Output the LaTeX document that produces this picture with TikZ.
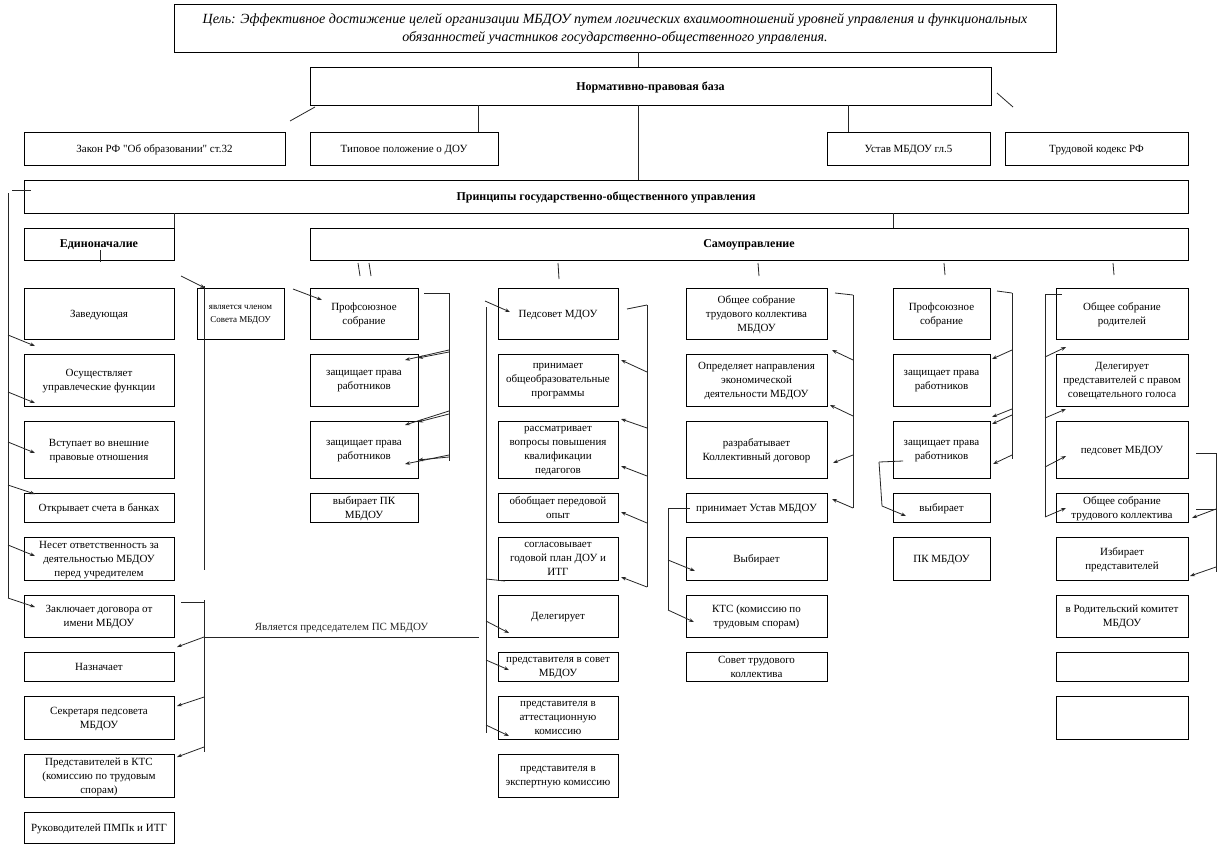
\documentclass[tikz,border=0pt]{standalone}
\usepackage{fontspec}
\setmainfont{Liberation Serif}[Ligatures=TeXOff]
\usetikzlibrary{arrows.meta,positioning,calc}

\begin{document}
\begin{tikzpicture}[x=1pt,y=-1pt,font=\fontsize{11}{14}\selectfont,
    node distance=15pt,
    ubox/.style={draw,line width=1pt,align=center,inner sep=1pt,outer sep=0pt,
                 text depth=-5pt,anchor=north west},
    hdr/.style={ubox,font=\fontsize{12}{14}\selectfont\bfseries},
    colZ/.style={ubox,minimum width=150pt},
    colC/.style={ubox,minimum width=87pt},
    colP/.style={ubox,minimum width=108pt},
    colS/.style={ubox,minimum width=120pt},
    colT/.style={ubox,minimum width=141pt},
    colK/.style={ubox,minimum width=97pt},
    colR/.style={ubox,minimum width=132pt},
    hA/.style={minimum height=51pt},
    hB/.style={minimum height=52pt},
    hC/.style={minimum height=57pt},
    hD/.style={minimum height=29pt},
    hE/.style={minimum height=43pt},
    hF/.style={minimum height=42pt},
    hG/.style={minimum height=31pt},
    link/.style={line width=0.8pt,black!85},
    arr/.style={link,-{Stealth[length=5pt,width=3.6pt]}}]
  \fill[white] (0,0) rectangle (1226,857);
  \useasboundingbox (0,0) rectangle (1226,857);

  % top levels
  \node[ubox,minimum width=882pt,minimum height=48pt,
        font=\fontsize{14}{18}\selectfont\itshape] (goal) at (174,4)
    {Цель: Эффективное достижение целей организации МБДОУ путем логических вхаимоотношений уровней управления и функциональных\\
     обязанностей участников государственно-общественного управления.};
  \node[hdr,minimum width=681pt,minimum height=38pt] (norm) at (310,67) {Нормативно-правовая база};
  \node[ubox,minimum width=261pt,minimum height=33pt] (zakon) at (24,132) {Закон РФ "Об образовании" ст.32};
  \node[ubox,minimum width=188pt,minimum height=33pt] (tip)   at (310,132) {Типовое положение о ДОУ};
  \node[ubox,minimum width=163pt,minimum height=33pt] (ustav) at (827,132) {Устав МБДОУ гл.5};
  \node[ubox,minimum width=183pt,minimum height=33pt] (trud)  at (1005,132) {Трудовой кодекс РФ};
  \node[hdr,minimum width=1164pt,minimum height=33pt] (princ) at (24,180)
    {Принципы государственно-общественного управления};
  \node[hdr,minimum width=150pt,minimum height=32pt] (edin) at (24,228) {Единоначалие};
  \node[hdr,minimum width=878pt,minimum height=32pt] (samo) at (310,228) {Самоуправление};

  % Единоначалие
  \node[colZ,hA] (z1) at (24,288) {Заведующая};
  \node[colZ,hB,below=of z1] (z2) {Осуществляет\\управлеческие функции};
  \node[colZ,hC,below=of z2] (z3) {Вступает во внешние\\правовые отношения};
  \node[colZ,hD,below=of z3] (z4) {Открывает счета в банках};
  \node[colZ,hE,below=of z4] (z5) {Несет ответственность за\\деятельностью МБДОУ\\перед учредителем};
  \node[colZ,hF,below=of z5] (z6) {Заключает договора от\\имени МБДОУ};
  \node[colZ,hD,below=of z6] (z7) {Назначает};
  \node[colZ,hE,below=of z7] (z8) {Секретаря педсовета\\МБДОУ};
  \node[colZ,hE,below=of z8] (z9) {Представителей в КТС\\(комиссию по трудовым\\спорам)};
  \node[colZ,hG,below=of z9] (z10) {Руководителей ПМПк и ИТГ};
  \node[colC,hA,font=\fontsize{9}{13}\selectfont] (chlen) at (197,288) {является членом\\Совета МБДОУ};

  % Профсоюзное собрание
  \node[colP,hA] (pa1) at (310,288) {Профсоюзное\\собрание};
  \node[colP,hB,below=of pa1] (pa2) {защищает права\\работников};
  \node[colP,hC,below=of pa2] (pa3) {защищает права\\работников};
  \node[colP,hD,below=of pa3] (pa4) {выбирает ПК\\МБДОУ};

  % Педсовет
  \node[colS,hA] (ps1) at (498,288) {Педсовет МДОУ};
  \node[colS,hB,below=of ps1] (ps2) {принимает\\общеобразовательные\\программы};
  \node[colS,hC,below=of ps2] (ps3) {рассматривает\\вопросы повышения\\квалификации\\педагогов};
  \node[colS,hD,below=of ps3] (ps4) {обобщает передовой\\опыт};
  \node[colS,hE,below=of ps4] (ps5) {согласовывает\\годовой план ДОУ и\\ИТГ};
  \node[colS,hF,below=of ps5] (ps6) {Делегирует};
  \node[colS,hD,below=of ps6] (ps7) {представителя в совет\\МБДОУ};
  \node[colS,hE,below=of ps7] (ps8) {представителя в\\аттестационную\\комиссию};
  \node[colS,hE,below=of ps8] (ps9) {представителя в\\экспертную комиссию};

  % Общее собрание трудового коллектива
  \node[colT,hA] (ob1) at (686,288) {Общее собрание\\трудового коллектива\\МБДОУ};
  \node[colT,hB,below=of ob1] (ob2) {Определяет направления\\экономической\\деятельности МБДОУ};
  \node[colT,hC,below=of ob2] (ob3) {разрабатывает\\Коллективный договор};
  \node[colT,hD,below=of ob3] (ob4) {принимает Устав МБДОУ};
  \node[colT,hE,below=of ob4] (ob5) {Выбирает};
  \node[colT,hF,below=of ob5] (ob6) {КТС (комиссию по\\трудовым спорам)};
  \node[colT,hD,below=of ob6] (ob7) {Совет трудового\\коллектива};

  % Профсоюзное собрание (2)
  \node[colK,hA] (pb1) at (893,288) {Профсоюзное\\собрание};
  \node[colK,hB,below=of pb1] (pb2) {защищает права\\работников};
  \node[colK,hC,below=of pb2] (pb3) {защищает права\\работников};
  \node[colK,hD,below=of pb3] (pb4) {выбирает};
  \node[colK,hE,below=of pb4] (pb5) {ПК МБДОУ};

  % Общее собрание родителей
  \node[colR,hA] (ro1) at (1056,288) {Общее собрание\\родителей};
  \node[colR,hB,below=of ro1] (ro2) {Делегирует\\представителей с правом\\совещательного голоса};
  \node[colR,hC,below=of ro2] (ro3) {педсовет МБДОУ};
  \node[colR,hD,below=of ro3] (ro4) {Общее собрание\\трудового коллектива};
  \node[colR,hE,below=of ro4] (ro5) {Избирает\\представителей};
  \node[colR,hF,below=of ro5] (ro6) {в Родительский комитет\\МБДОУ};
  \node[colR,hD,below=of ro6] (ro7) {};
  \node[colR,hE,below=of ro7] (ro8) {};

  % upper links
  \coordinate (axis) at (638,0);
  \draw[link] (goal.south -| axis) -- (norm.north -| axis);
  \draw[link] (norm.south -| axis) -- (princ.north -| axis);
  \draw[link] ([xshift=-20pt]tip.north east) -- ++(0,-27);
  \draw[link] ([xshift=21pt]ustav.north west) -- ++(0,-27);
  \draw[link] (edin.north east) -- ++(0,-15);
  \draw[link] ([xshift=583pt]samo.north west) -- ++(0,-15);
  \draw[link] ([xshift=5pt,yshift=-2pt]norm.south west) -- ++(-25,14);
  \draw[link] ([xshift=6pt,yshift=-26pt]norm.north east) -- ++(16,14);
  \draw[link] ([xshift=76pt,yshift=10pt]edin.south west) -- ++(0,12);
  \draw[link] ([xshift=48pt,yshift=-3pt]samo.south west) -- ++(2,13);
  \draw[link] ([xshift=59pt,yshift=-3pt]samo.south west) -- ++(2,13);
  \draw[link] ([xshift=248pt,yshift=-3pt]samo.south west) -- ++(1,16);
  \draw[link] ([xshift=448pt,yshift=-3pt]samo.south west) -- ++(1,13);
  \draw[link] ([xshift=634pt,yshift=-3pt]samo.south west) -- ++(1,12);
  \draw[link] ([xshift=803pt,yshift=-3pt]samo.south west) -- ++(1,12);

  % left spine
  \coordinate (ltop) at (8,193);
  \coordinate (lbot) at (8,598);
  \draw[link] ([xshift=-12pt,yshift=-10pt]princ.north west) -- ++(19,0);
  \draw[link] (ltop) -- (lbot);
  \draw[arr] ([yshift=-142pt]ltop) -- ([xshift=11pt,yshift=8pt]z2.north west);
  \draw[arr] ([yshift=-199pt]ltop) -- ([xshift=11pt,yshift=3pt]z2.south west);
  \draw[arr] ([yshift=-249pt]ltop) -- ([xshift=11pt,yshift=-32pt]z3.north west);
  \draw[arr] ([yshift=-292pt]ltop) -- ([xshift=11pt,yshift=-1pt]z4.north west);
  \draw[arr] ([yshift=-352pt]ltop) -- ([xshift=11pt,yshift=-19pt]z5.north west);
  \draw[arr] (lbot) -- ([xshift=11pt,yshift=-12pt]z6.north west);

  % член Совета
  \draw[arr] ([xshift=-16pt,yshift=12pt]chlen.north west) -- ([xshift=8pt]chlen.north west);
  \draw[link] ([xshift=7pt,yshift=2pt]chlen.north west) -- ++(0,284);

  % Заключает договора
  \coordinate (zt) at (204,600);
  \coordinate (zb) at (204,752);
  \draw[link] ([xshift=7pt,yshift=-7pt]z6.north east) -- ++(23,0);
  \draw[link] (zt) -- (zb);
  \draw[arr] ([yshift=-37pt]zt) -- ([xshift=3pt,yshift=5pt]z7.north east);
  \draw[arr] ([yshift=-97pt]zt) -- ([xshift=3pt,yshift=-10pt]z8.north east);
  \draw[arr] ([yshift=-147pt]zt) -- ([xshift=3pt,yshift=-3pt]z9.north east);
  \draw[link] ([yshift=-37pt]zt) -- ([xshift=-19pt]ps6.south west)
    node[midway,above=0pt] {Является председателем ПС МБДОУ};

  % Профсоюзное собрание
  \coordinate (pat) at (449,293);
  \coordinate (pab) at (449,461);
  \draw[arr] ([xshift=-17pt,yshift=-1pt]pa1.north west) -- ([xshift=12pt,yshift=-12pt]pa1.north west);
  \draw[link] ([xshift=6pt,yshift=-5pt]pa1.north east) -- (pat);
  \draw[link] (pat) -- (pab);
  \draw[arr] ([yshift=-57pt]pat) -- ([xshift=-13pt,yshift=-6pt]pa2.north east);
  \draw[arr] ([yshift=-59pt]pat) -- ([yshift=-4pt]pa2.north east);
  \draw[arr] ([yshift=-118pt]pat) -- ([xshift=-13pt,yshift=-4pt]pa3.north east);
  \draw[arr] ([yshift=-121pt]pat) -- ([yshift=-1pt]pa3.north east);
  \draw[arr] ([yshift=-162pt]pat) -- ([xshift=-13pt,yshift=-43pt]pa3.north east);
  \draw[arr] ([yshift=-164pt]pat) -- ([yshift=-39pt]pa3.north east);

  % Педсовет
  \coordinate (pslt) at (486,307);
  \coordinate (pslb) at (486,733);
  \draw[link] (pslt) -- (pslb);
  \draw[arr] ([xshift=-13pt,yshift=-13pt]ps1.north west) -- ([xshift=12pt,yshift=-24pt]ps1.north west);
  \draw[link] ([xshift=-12pt,yshift=1pt]ps5.south west) -- ++(19,2);
  \draw[arr] ([yshift=-314pt]pslt) -- ([xshift=11pt,yshift=4pt]ps6.south west);
  \draw[arr] ([yshift=-353pt]pslt) -- ([xshift=11pt,yshift=-18pt]ps7.north west);
  \draw[arr] ([yshift=-418pt]pslt) -- ([xshift=11pt,yshift=3pt]ps8.south west);
  \coordinate (psrt) at (647,305);
  \coordinate (psrb) at (647,587);
  \draw[link] ([xshift=9pt,yshift=-21pt]ps1.north east) -- (psrt);
  \draw[link] (psrt) -- (psrb);
  \draw[arr] ([yshift=-67pt]psrt) -- ([xshift=3pt,yshift=-6pt]ps2.north east);
  \draw[arr] ([yshift=-123pt]psrt) -- ([xshift=3pt,yshift=2pt]ps3.north east);
  \draw[arr] ([yshift=-171pt]psrt) -- ([xshift=3pt,yshift=12pt]ps3.south east);
  \draw[arr] ([yshift=-218pt]psrt) -- ([xshift=3pt,yshift=-19pt]ps4.north east);
  \draw[arr] (psrb) -- ([xshift=3pt,yshift=3pt]ps5.south east);

  % Общее собрание трудового коллектива
  \coordinate (obrt) at (853,295);
  \coordinate (obrb) at (853,508);
  \draw[link] ([xshift=8pt,yshift=-5pt]ob1.north east) -- (obrt);
  \draw[link] (obrt) -- (obrb);
  \draw[arr] ([yshift=-65pt]obrt) -- ([xshift=5pt,yshift=4pt]ob2.north east);
  \draw[arr] ([yshift=-121pt]obrt) -- ([xshift=3pt,yshift=1pt]ob2.south east);
  \draw[arr] ([yshift=-160pt]obrt) -- ([xshift=6pt,yshift=15pt]ob3.south east);
  \draw[arr] (obrb) -- ([xshift=5pt,yshift=-6pt]ob4.north east);
  \coordinate (oblt) at (668,508);
  \coordinate (oblb) at (668,610);
  \draw[link] (oblt) -- ([xshift=4pt,yshift=-15pt]ob4.north west);
  \draw[link] (oblt) -- (oblb);
  \draw[arr] ([yshift=-52pt]oblt) -- ([xshift=9pt,yshift=-34pt]ob5.north west);
  \draw[arr] (oblb) -- ([xshift=8pt,yshift=-27pt]ob6.north west);

  % Профсоюзное собрание (2)
  \coordinate (pbrt) at (1012,293);
  \coordinate (pbrb) at (1012,459);
  \draw[link] ([xshift=7pt,yshift=-3pt]pb1.north east) -- (pbrt);
  \draw[link] (pbrt) -- (pbrb);
  \draw[arr] ([yshift=-57pt]pbrt) -- ([xshift=2pt,yshift=-5pt]pb2.north east);
  \draw[arr] ([yshift=-116pt]pbrt) -- ([xshift=2pt,yshift=4pt]pb3.north east);
  \draw[arr] ([yshift=-122pt]pbrt) -- ([xshift=2pt,yshift=-3pt]pb3.north east);
  \draw[arr] ([yshift=-162pt]pbrt) -- ([xshift=3pt,yshift=14pt]pb3.south east);
  \coordinate (pblt) at (879,462);
  \coordinate (pblb) at (882,506);
  \draw[link] (pblt) -- ([xshift=10pt,yshift=-40pt]pb3.north west);
  \draw[link] (pblt) -- (pblb);
  \draw[arr] (pblb) -- ([xshift=13pt,yshift=-23pt]pb4.north west);

  % Общее собрание родителей
  \coordinate (rolt) at (1045,294);
  \coordinate (rolb) at (1045,517);
  \draw[link] (rolt) -- ([xshift=6pt,yshift=-6pt]ro1.north west);
  \draw[link] (rolt) -- (rolb);
  \draw[arr] ([yshift=-63pt]rolt) -- ([xshift=10pt,yshift=7pt]ro2.north west);
  \draw[arr] ([yshift=-124pt]rolt) -- ([xshift=10pt,yshift=-3pt]ro2.south west);
  \draw[arr] ([yshift=-173pt]rolt) -- ([xshift=10pt,yshift=-35pt]ro3.north west);
  \draw[arr] (rolb) -- ([xshift=10pt,yshift=-15pt]ro4.north west);
  \coordinate (rort) at (1216,453);
  \coordinate (rorb) at (1216,572);
  \draw[link] ([xshift=8pt,yshift=-32pt]ro3.north east) -- (rort);
  \draw[link] (rort) -- (rorb);
  \draw[link] ([xshift=8pt,yshift=-16pt]ro4.north east) -- ++(20,0);
  \draw[arr] ([yshift=-56pt]rort) -- ([xshift=4pt,yshift=4pt]ro4.south east);
  \draw[arr] ([yshift=-114pt]rort) -- ([xshift=2pt,yshift=4pt]ro5.south east);
\end{tikzpicture}
\end{document}
